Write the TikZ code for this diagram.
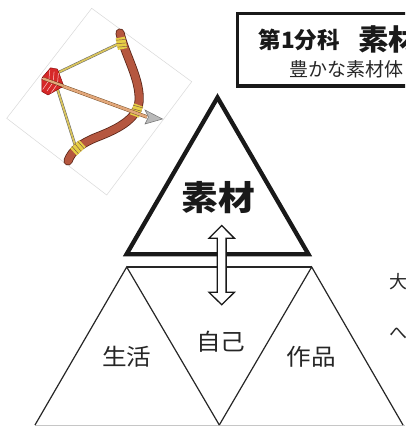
\documentclass[tikz,border=0pt]{standalone}
\usepackage{fontspec}
\usetikzlibrary{calc}
\newfontfamily\jp{Noto Sans CJK JP}
\definecolor{bowred}{HTML}{B5573F}
\definecolor{bowdark}{HTML}{5A2518}
\definecolor{stringyellow}{HTML}{D9C45C}
\definecolor{bindyellow}{HTML}{E6CF45}
\definecolor{shafttan}{HTML}{E2A77A}
\definecolor{fletchred}{HTML}{D62828}
\tikzset{
  heavy/.style={line width=4.3pt, line join=miter, draw=black!90},
  thinedge/.style={line width=1.2pt, draw=black!85, line join=miter},
  framebox/.style={line width=3.3pt, draw=black!90, line join=miter},
  label/.style={inner sep=0pt, text=black!85},
  binding/.style={bindyellow, line width=9.5pt},
  wrap/.style={bowdark!80, line width=0.45pt},
}
\begin{document}
\begin{tikzpicture}[x=1pt,y=-1pt]
\useasboundingbox (0,0) rectangle (405,426);
\clip (0,0) rectangle (405,426);
\fill[white] (0,0) rectangle (405,426);

% ---- bow and arrow emblem ----
\draw[gray!30, line width=0.5pt] (91.7,8.3) -- (191.7,81.7) -- (106.7,195) -- (6.7,118.3) -- cycle;
% bowstring
\draw[draw=black!60, double=stringyellow, double distance=1.8pt, line width=0.5pt, line join=round]
  (118,44) -- (53,75) -- (76,148);
% bow limb
\draw[draw=bowdark, double=bowred, double distance=7.5pt, line width=0.8pt, line cap=round]
  (120,33) .. controls (125,55) and (141,80) .. (139,102)
  .. controls (137,120) and (115,130) .. (97,137)
  .. controls (82,143) and (72,150) .. (68,161);
% bindings
\draw[binding] (120.3,37.5) -- (122.6,49);
\foreach \t in {0.15,0.45,0.75}
  \draw[wrap] ($(115.5,38.5)!\t!(118.1,50)$) -- ++(10,-0.8);
\draw[binding] (138.6,105) -- (134.5,116);
\foreach \t in {0.2,0.5,0.8}
  \draw[wrap] ($(134,103)!\t!(129.5,114)$) -- ++(10,2.8);
\draw[binding] (82.5,143.5) -- (73.5,152);
\foreach \t in {0.2,0.5,0.8}
  \draw[wrap] ($(79.5,139.5)!\t!(70,148)$) -- ++(6.5,7.5);
% arrow shaft and head
\draw[draw=brown!60!black, double=shafttan, double distance=2.6pt, line width=0.45pt]
  (46,80) -- (147,117);
\filldraw[fill=gray!55, draw=black!55, line width=0.5pt]
  (145,110) -- (162.5,119) -- (145,124) -- (148.5,117) -- cycle;
% fletching
\begin{scope}[shift={(43,78.5)}, rotate=-20, scale=1.15]
  \filldraw[fill=fletchred, draw=red!50!black, line width=0.4pt]
    (-1,-0.5) -- (3,-11) -- (9,-12) -- (18,-1.5) -- cycle;
  \filldraw[fill=fletchred, draw=red!50!black, line width=0.4pt]
    (-1,0.5) -- (3,11) -- (9,12) -- (18,1.5) -- cycle;
  \foreach \a in {5,9,13}{
    \draw[white!80!red, line width=0.5pt] (\a,-1.5) -- (\a-2,-9);
    \draw[white!80!red, line width=0.5pt] (\a,1.5) -- (\a-2,9);
  }
  \draw[draw=brown!60!black, double=shafttan, double distance=2.2pt, line width=0.4pt] (0,0) -- (19,0);
\end{scope}

% ---- title frame ----
\coordinate (fa) at (420,13.5);
\coordinate (fb) at (237.5,13.5);
\coordinate (fc) at (237.5,86);
\coordinate (fd) at (420,86);
\draw[framebox] (fa) -- (fb) -- (fc) -- (fd);
\node[label, anchor=west, text=black!90, font=\jp\bfseries\fontsize{22.5}{22.5}\selectfont]
  (course) at (258.5,40) {第1分科};
\node[label, anchor=west, text=black!90, font=\jp\bfseries\fontsize{29}{29}\selectfont]
  (theme) at (358,39.5) {\scalebox{1.05}[1]{素材}};
\node[label, anchor=west, font=\jp\fontsize{19}{19}\selectfont]
  (sub) at (289,69.5) {豊かな素材体};

% ---- triangles ----
\coordinate (top) at (217.5,97.5);
\coordinate (tl) at (126.5,254.3);
\coordinate (tr) at (308.5,254.3);
\draw[heavy] (top) -- (tr) -- (tl) -- cycle;

\coordinate (la) at (126.7,267);
\coordinate (ra) at (311.7,267);
\coordinate (bl) at (35,425);
\coordinate (bm) at (219.3,425);
\coordinate (br) at (403,425);
\draw[gray!45, line width=0.8pt] (35,425.5) -- (405,425.5);
\draw[thinedge] (bl) -- (la) -- (bm);
\draw[thinedge] (bm) -- (ra) -- (br);
\draw[thinedge] (la) -- (ra);

% two-way arrow between the triangles
\filldraw[fill=white, draw=black!90, line width=1.3pt, line join=miter]
  (221.7,225.5) -- (234.4,238.3) -- (226.1,238.3) -- (226.1,292.3) -- (234.4,292.3)
  -- (221.7,304.7) -- (209,292.3) -- (217.3,292.3) -- (217.3,238.3) -- (209,238.3) -- cycle;

% ---- labels ----
\node[label, text=black!90, font=\jp\bfseries\fontsize{34}{34}\selectfont]
  (material) at (218.5,197.5) {\scalebox{1.08}[1]{素材}};
\node[label, font=\jp\fontsize{23}{23}\selectfont] (life) at (126.7,357) {\scalebox{1.07}[1]{生活}};
\node[label, font=\jp\fontsize{23}{23}\selectfont] (self) at (220.8,342) {\scalebox{1.07}[1]{自己}};
\node[label, font=\jp\fontsize{23}{23}\selectfont] (work) at (311,357) {\scalebox{1.07}[1]{作品}};
\node[label, anchor=west, font=\jp\fontsize{18}{18}\selectfont] (r1) at (389.5,281.5) {大};
\node[label, anchor=west, font=\jp\fontsize{18}{18}\selectfont] (r2) at (389.5,334) {へ};
\end{tikzpicture}
\end{document}
